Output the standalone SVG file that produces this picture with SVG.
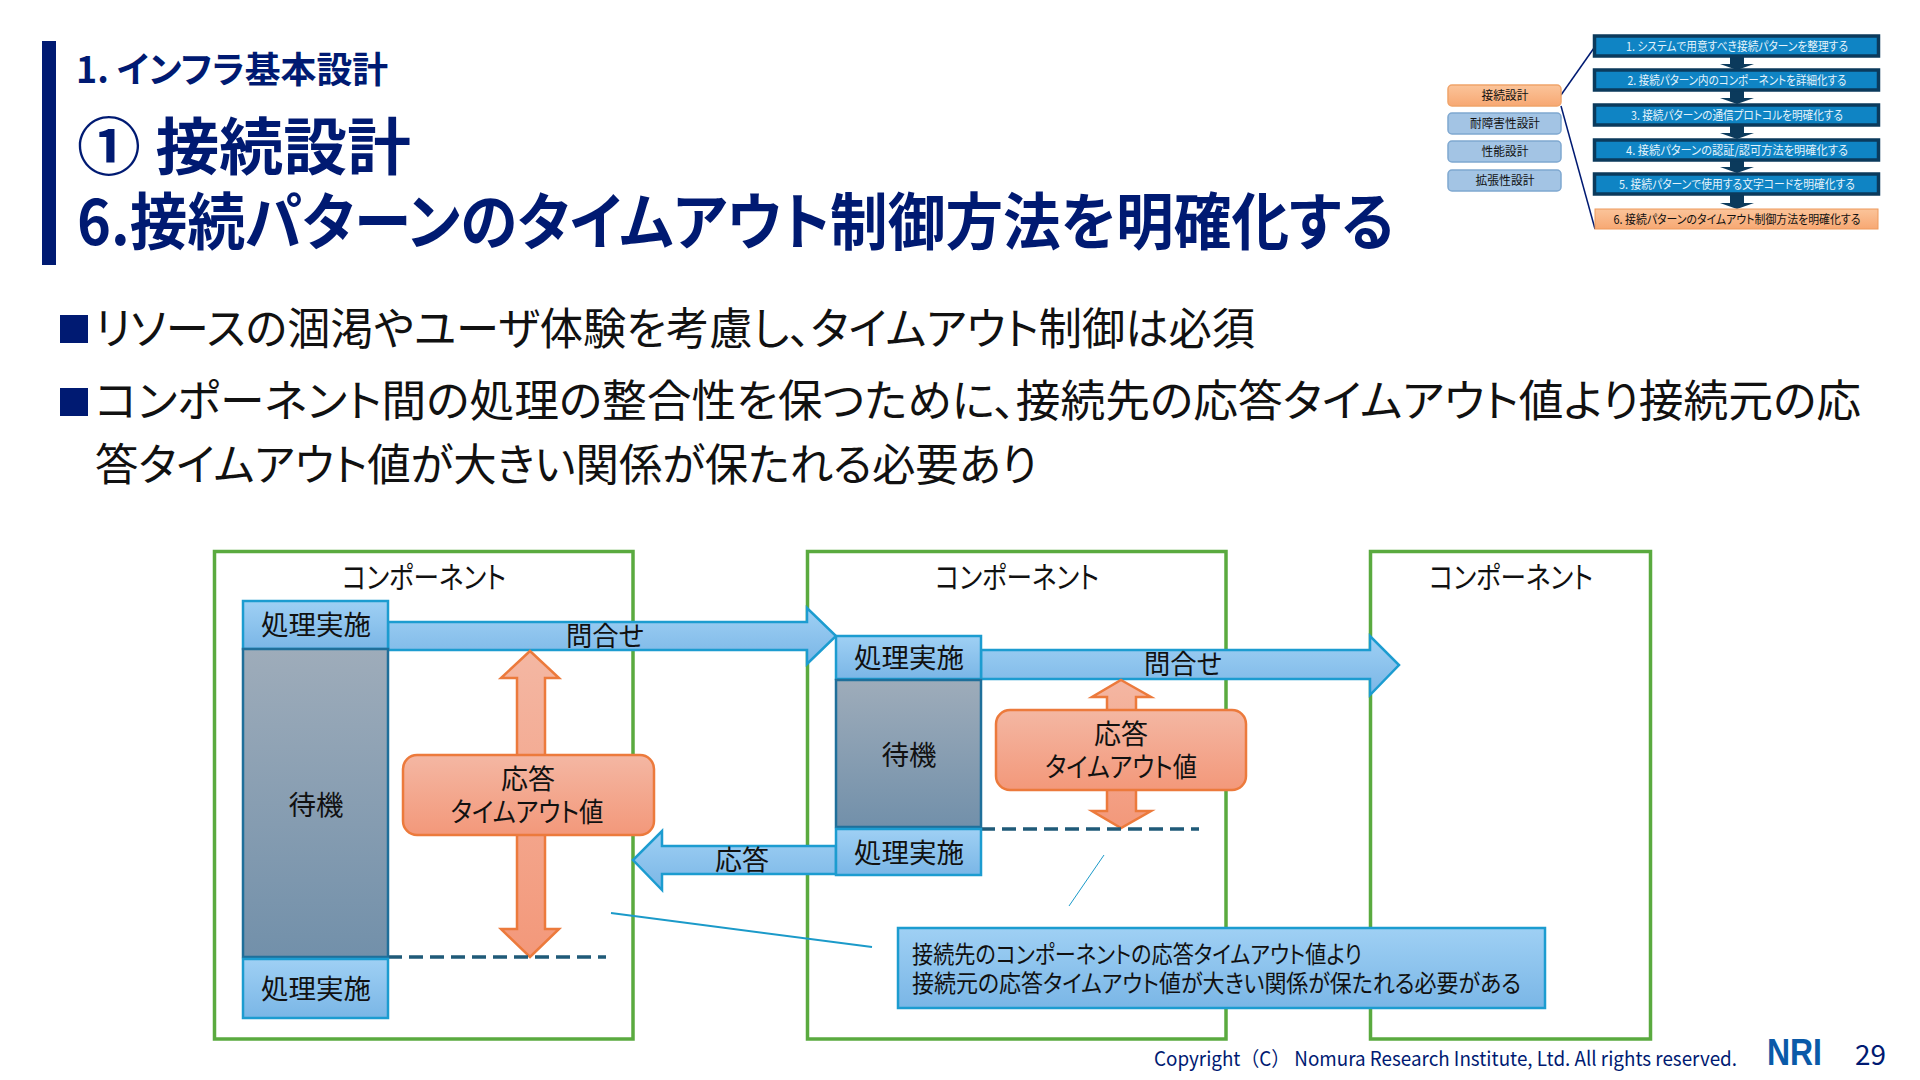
<svg xmlns="http://www.w3.org/2000/svg" width="1920" height="1080" viewBox="0 0 1920 1080">
<style>
text{font-family:"Noto Sans CJK JP","Noto Sans",sans-serif;font-feature-settings:"palt";fill:#111}
.m{text-anchor:middle}
.navy{fill:#001a72}
.b{font-weight:700}
.h2{font-size:62px}
.body{font-size:44px}
.d{font-size:27px}
.c{font-size:24px}
.t{font-size:12px}
.rt{font-size:12px;fill:#e4f3fb;text-anchor:middle}
.comp{fill:none;stroke:#5aaa3f;stroke-width:3.5}
.blue{fill:url(#gb);stroke:#1c9cd0;stroke-width:2.5}
.wait{fill:url(#gw);stroke:#1f6f9a;stroke-width:2.5}
.or{fill:url(#go);stroke:#ec7a3c;stroke-width:2.5}
.dash{stroke:#1f5a78;stroke-width:3.5;stroke-dasharray:14 7;fill:none}
.row{fill:#0f84c4;stroke:#0b3a5c;stroke-width:3.5}
.side{fill:#a3c4e4;stroke:#7fa8d0;stroke-width:1.5}
.ma{fill:#0b3a5c}
</style>
<defs>
<linearGradient id="gb" x1="0" y1="0" x2="0" y2="1"><stop offset="0" stop-color="#9fd0f4"/><stop offset="1" stop-color="#7ab6e6"/></linearGradient>
<linearGradient id="gw" x1="0" y1="0" x2="0" y2="1"><stop offset="0" stop-color="#9eacba"/><stop offset="1" stop-color="#7290aa"/></linearGradient>
<linearGradient id="go" x1="0" y1="0" x2="0" y2="1"><stop offset="0" stop-color="#f4b7a3"/><stop offset="1" stop-color="#f3987a"/></linearGradient>
<linearGradient id="gs" x1="0" y1="0" x2="0" y2="1"><stop offset="0" stop-color="#fbc49a"/><stop offset="1" stop-color="#f7a873"/></linearGradient>
</defs>
<rect width="1920" height="1080" fill="#fff"/>

<g id="title">
<rect x="42" y="41" width="14" height="224" fill="#001a72"/>
<text class="navy b" x="76" y="83" font-size="36" textLength="312" lengthAdjust="spacingAndGlyphs">1. インフラ基本設計</text>
<text class="navy b h2" x="77" y="170" textLength="334" lengthAdjust="spacingAndGlyphs">① 接続設計</text>
<text class="navy b h2" x="77" y="245" textLength="1317" lengthAdjust="spacingAndGlyphs">6.接続パターンのタイムアウト制御方法を明確化する</text>
</g>

<g id="bullets">
<rect x="60" y="315" width="28" height="28" fill="#001a72"/>
<text class="body" x="95" y="345" textLength="1160" lengthAdjust="spacingAndGlyphs">リソースの涸渇やユーザ体験を考慮し、タイムアウト制御は必須</text>
<rect x="60" y="388" width="28" height="28" fill="#001a72"/>
<text class="body" x="95" y="417" textLength="1766" lengthAdjust="spacingAndGlyphs">コンポーネント間の処理の整合性を保つために、接続先の応答タイムアウト値より接続元の応</text>
<text class="body" x="95" y="481" textLength="942" lengthAdjust="spacingAndGlyphs">答タイムアウト値が大きい関係が保たれる必要あり</text>
</g>

<g id="component-1"><rect class="comp" x="214.500" y="551.500" width="418.500" height="487.500"/>
<text class="d m" x="424" y="588" style="font-size:30px" textLength="164" lengthAdjust="spacingAndGlyphs">コンポーネント</text></g>
<g id="component-2"><rect class="comp" x="807.500" y="551.500" width="418.500" height="487.500"/>
<text class="d m" x="1017" y="588" style="font-size:30px" textLength="164" lengthAdjust="spacingAndGlyphs">コンポーネント</text></g>
<g id="component-3"><rect class="comp" x="1370.500" y="551.500" width="280" height="487.500"/>
<text class="d m" x="1511" y="588" style="font-size:30px" textLength="164" lengthAdjust="spacingAndGlyphs">コンポーネント</text></g>

<g id="connectors">
<path class="blue" d="M388 622H807V608L836 636L807 664V650H388Z"/>
<path class="blue" d="M981 650H1370V636L1399 665L1370 695V679H981Z"/>
<path class="blue" d="M836 846H662V831L633 860L662 890V874H836Z"/>
<path class="or" d="M530 651L559 678H545V929H559L530 957L501 929H517V678H501Z"/>
<path class="or" d="M1121 680L1151 697H1136V811H1151L1121 828L1092 811H1107V697H1092Z"/>
<line class="dash" x1="388" y1="957" x2="606" y2="957"/>
<line class="dash" x1="981" y1="829" x2="1199" y2="829"/>
<line x1="611" y1="913" x2="872" y2="947" stroke="#1b9ac9" stroke-width="2"/>
<line x1="1104" y1="855" x2="1069" y2="906" stroke="#1b9ac9" stroke-width="1"/>
<text class="d m" x="605" y="646" textLength="78" lengthAdjust="spacingAndGlyphs">問合せ</text>
<text class="d m" x="1183" y="674" textLength="78" lengthAdjust="spacingAndGlyphs">問合せ</text>
<text class="d m" x="742" y="870" textLength="54" lengthAdjust="spacingAndGlyphs">応答</text>
</g>

<g id="a-proc-1"><rect class="blue" x="243" y="601" width="145" height="48"/><text class="d m" x="316" y="635" textLength="110" lengthAdjust="spacingAndGlyphs">処理実施</text></g>
<g id="a-wait"><rect class="wait" x="243" y="649" width="145" height="308"/><text class="d m" x="316" y="815" textLength="55" lengthAdjust="spacingAndGlyphs">待機</text></g>
<g id="a-proc-2"><rect class="blue" x="243" y="959" width="145" height="59"/><text class="d m" x="316" y="999" textLength="110" lengthAdjust="spacingAndGlyphs">処理実施</text></g>
<g id="a-timeout"><rect class="or" x="403" y="755" width="251" height="80" rx="14"/>
<text class="d m" x="528" y="789" textLength="54" lengthAdjust="spacingAndGlyphs">応答</text>
<text class="d m" x="527" y="822" textLength="153" lengthAdjust="spacingAndGlyphs">タイムアウト値</text></g>

<g id="b-proc-1"><rect class="blue" x="836" y="636" width="145" height="43"/><text class="d m" x="909" y="668" textLength="110" lengthAdjust="spacingAndGlyphs">処理実施</text></g>
<g id="b-wait"><rect class="wait" x="836" y="680" width="145" height="147"/><text class="d m" x="909" y="765" textLength="55" lengthAdjust="spacingAndGlyphs">待機</text></g>
<g id="b-proc-2"><rect class="blue" x="836" y="829" width="145" height="46"/><text class="d m" x="909" y="863" textLength="110" lengthAdjust="spacingAndGlyphs">処理実施</text></g>
<g id="b-timeout"><rect class="or" x="996" y="710" width="250" height="80" rx="14"/>
<text class="d m" x="1121" y="744" textLength="54" lengthAdjust="spacingAndGlyphs">応答</text>
<text class="d m" x="1121" y="777" textLength="152" lengthAdjust="spacingAndGlyphs">タイムアウト値</text></g>

<g id="callout"><rect class="blue" x="898" y="928" width="647" height="80"/>
<text class="c" x="912" y="963" textLength="450" lengthAdjust="spacingAndGlyphs">接続先のコンポーネントの応答タイムアウト値より</text>
<text class="c" x="912" y="992" textLength="609" lengthAdjust="spacingAndGlyphs">接続元の応答タイムアウト値が大きい関係が保たれる必要がある</text></g>

<g id="map">
<g id="map-lines" fill="none" stroke="#001a72" stroke-width="1.500"><path d="M1561 95L1594 48"/><path d="M1561 106L1595 229"/></g>
<g id="map-arrows" class="ma">
<path d="M1730 57H1744V64H1754L1737 70L1720 64H1730Z"/>
<path d="M1730 91H1744V98H1754L1737 104L1720 98H1730Z"/>
<path d="M1730 126H1744V133H1754L1737 139L1720 133H1730Z"/>
<path d="M1730 160H1744V167H1754L1737 173L1720 167H1730Z"/>
<path d="M1730 195H1744V203H1754L1737 209L1720 203H1730Z"/>
</g>
<g id="side-1"><rect x="1448" y="85" width="113" height="21" rx="4" fill="url(#gs)" stroke="#f0a46a" stroke-width="1.500"/><text class="t m" x="1505" y="100" textLength="47" lengthAdjust="spacingAndGlyphs">接続設計</text></g>
<g id="side-2"><rect class="side" x="1448" y="113" width="113" height="21" rx="4"/><text class="t m" x="1505" y="128" textLength="70" lengthAdjust="spacingAndGlyphs">耐障害性設計</text></g>
<g id="side-3"><rect class="side" x="1448" y="141" width="113" height="21" rx="4"/><text class="t m" x="1505" y="156" textLength="47" lengthAdjust="spacingAndGlyphs">性能設計</text></g>
<g id="side-4"><rect class="side" x="1448" y="170" width="113" height="21" rx="4"/><text class="t m" x="1505" y="185" textLength="59" lengthAdjust="spacingAndGlyphs">拡張性設計</text></g>
<g id="step-1"><rect class="row" x="1594.500" y="36" width="284" height="20"/><text class="rt" x="1737" y="51" textLength="222" lengthAdjust="spacingAndGlyphs">1. システムで用意すべき接続パターンを整理する</text></g>
<g id="step-2"><rect class="row" x="1594.500" y="70" width="284" height="20"/><text class="rt" x="1737" y="85" textLength="219" lengthAdjust="spacingAndGlyphs">2. 接続パターン内のコンポーネントを詳細化する</text></g>
<g id="step-3"><rect class="row" x="1594.500" y="105" width="284" height="20"/><text class="rt" x="1737" y="120" textLength="212" lengthAdjust="spacingAndGlyphs">3. 接続パターンの通信プロトコルを明確化する</text></g>
<g id="step-4"><rect class="row" x="1594.500" y="140" width="284" height="20"/><text class="rt" x="1737" y="155" textLength="222" lengthAdjust="spacingAndGlyphs">4. 接続パターンの認証/認可方法を明確化する</text></g>
<g id="step-5"><rect class="row" x="1594.500" y="174" width="284" height="20"/><text class="rt" x="1737" y="189" textLength="236" lengthAdjust="spacingAndGlyphs">5. 接続パターンで使用する文字コードを明確化する</text></g>
<g id="step-6"><rect x="1595" y="209" width="283" height="20" fill="url(#gs)" stroke="#ee9a5c" stroke-width="1"/><text class="t m" x="1737" y="224" textLength="247" lengthAdjust="spacingAndGlyphs">6. 接続パターンのタイムアウト制御方法を明確化する</text></g>
</g>

<g id="footer">
<text class="navy" x="1154" y="1066" font-size="20" textLength="583" lengthAdjust="spacingAndGlyphs" style="font-feature-settings:normal">Copyright（C） Nomura Research Institute, Ltd. All rights reserved.</text>
<text x="1767" y="1065" font-size="37" font-weight="700" textLength="55" lengthAdjust="spacingAndGlyphs" style="fill:#0a5aa8;font-family:'Liberation Sans',sans-serif">NRI</text>
<text class="navy" x="1855" y="1065" font-size="28" textLength="31" lengthAdjust="spacingAndGlyphs">29</text>
</g>
</svg>
